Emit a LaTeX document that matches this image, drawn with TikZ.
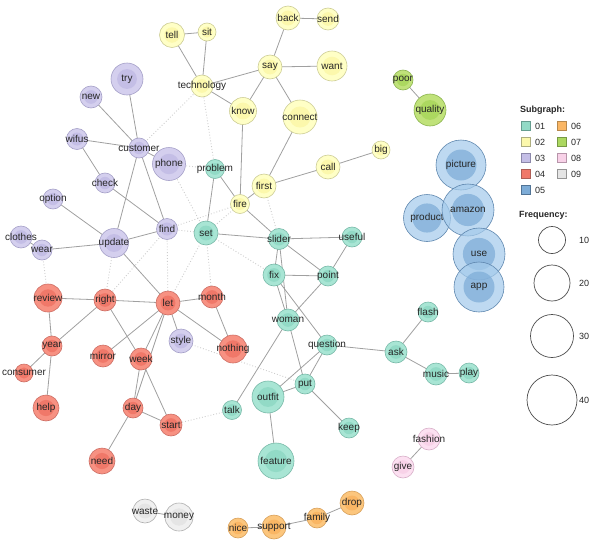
\documentclass[tikz,border=0pt]{standalone}
\usepackage{fontspec}
\setmainfont{Liberation Sans}
\usetikzlibrary{backgrounds}
\definecolor{g1f}{RGB}{168,229,212}\definecolor{g1in}{RGB}{146,218,198}\definecolor{g1b}{RGB}{120,185,168}
\definecolor{g2f}{RGB}{255,255,198}\definecolor{g2in}{RGB}{252,248,172}\definecolor{g2b}{RGB}{205,205,150}
\definecolor{g3f}{RGB}{212,207,238}\definecolor{g3in}{RGB}{196,190,230}\definecolor{g3b}{RGB}{165,160,200}
\definecolor{g4f}{RGB}{247,145,130}\definecolor{g4in}{RGB}{240,120,105}\definecolor{g4b}{RGB}{205,110,100}
\definecolor{g5f}{RGB}{165,203,235}\definecolor{g5in}{RGB}{125,172,215}\definecolor{g5b}{RGB}{95,135,175}
\definecolor{g6f}{RGB}{252,198,125}\definecolor{g6in}{RGB}{250,182,100}\definecolor{g6b}{RGB}{215,160,90}
\definecolor{g7f}{RGB}{192,226,122}\definecolor{g7in}{RGB}{172,216,96}\definecolor{g7b}{RGB}{140,180,80}
\definecolor{g8f}{RGB}{252,224,241}\definecolor{g8in}{RGB}{248,210,232}\definecolor{g8b}{RGB}{215,175,200}
\definecolor{g9f}{RGB}{240,240,240}\definecolor{g9in}{RGB}{229,229,229}\definecolor{g9b}{RGB}{175,175,175}
\definecolor{edgegray}{RGB}{160,160,160}
\definecolor{dotgray}{RGB}{205,205,205}
\tikzset{
  wn/.style={circle, draw=#1b, fill=#1f, line width=0.6pt, inner sep=0pt, outer sep=0pt},
  grp1/.style={wn=g1}, grp2/.style={wn=g2}, grp3/.style={wn=g3}, grp4/.style={wn=g4},
  grp5/.style={wn=g5, fill opacity=0.72}, grp6/.style={wn=g6}, grp7/.style={wn=g7},
  grp8/.style={wn=g8}, grp9/.style={wn=g9},
  lbl/.style={font=\fontsize{10}{10}\selectfont, text=black!85, inner sep=0pt, fill opacity=1, text opacity=1},
  ed/.style={draw=edgegray, line width=0.8pt},
  dt/.style={draw=dotgray, line width=0.9pt, dotted},
  lgsq/.style={draw=#1b!85!black, fill=#1in, minimum size=8.5pt, inner sep=0pt, line width=0.6pt},
  lgtx/.style={font=\fontsize{9}{9}\selectfont, text=black!85, anchor=west, inner sep=0pt},
  lghd/.style={font=\bfseries\fontsize{9}{9}\selectfont, text=black!85, anchor=west, inner sep=0pt},
  frq/.style={circle, draw=black!70, line width=0.7pt, inner sep=0pt},
}
\newcommand\wn[6]{\node[grp#5, minimum size=#4*2pt, path picture={\fill[g#5in] (path picture bounding box.center) circle[radius=#4*0.62pt];}, label={[lbl]center:#6}] (#1) at (#2,#3) {};}
\begin{document}
\begin{tikzpicture}[x=1pt,y=-1pt]
\useasboundingbox (0,0) rectangle (599,546);
% subgraph 02
\wn{tell}{172}{35}{12.5}{2}{tell}
\wn{sit}{207}{32}{9}{2}{sit}
\wn{back}{288}{18}{12}{2}{back}
\wn{send}{328}{19}{11}{2}{send}
\wn{technology}{202}{86}{11}{2}{technology}
\wn{say}{270}{67}{12}{2}{say}
\wn{want}{332}{66}{15}{2}{want}
\wn{know}{243}{111}{13.5}{2}{know}
\wn{connect}{300}{117}{17}{2}{connect}
\wn{first}{264}{186}{12}{2}{first}
\wn{call}{328}{167}{12}{2}{call}
\wn{big}{381}{150}{9}{2}{big}
\wn{fire}{240}{204}{9.5}{2}{fire}
% 07
\wn{poor}{403}{80}{10}{7}{poor}
\wn{quality}{430}{110}{16}{7}{quality}
% 05
\wn{picture}{461}{165}{25}{5}{picture}
\wn{product}{427}{218}{23.5}{5}{product}
\wn{amazon}{468}{210}{26}{5}{amazon}
\wn{use}{479}{254}{26}{5}{use}
\wn{app}{479}{287}{25}{5}{app}
% 03
\wn{try}{127}{79}{16}{3}{try}
\wn{new}{91}{97}{11}{3}{new}
\wn{wifus}{77}{139}{10.5}{3}{wifus}
\wn{customer}{139}{148}{10}{3}{customer}
\wn{phone}{169}{164}{16.5}{3}{phone}
\wn{check}{105}{183}{10}{3}{check}
\wn{option}{53}{199}{10}{3}{option}
\wn{find}{167}{229}{10.5}{3}{find}
\wn{update}{114}{243}{14.5}{3}{update}
\wn{clothes}{21}{237}{11}{3}{clothes}
\wn{wear}{42}{250}{10}{3}{wear}
\wn{style}{181}{341}{12}{3}{style}
% 01
\wn{problem}{215}{169}{9.5}{1}{problem}
\wn{set}{206}{233}{12}{1}{set}
\wn{slider}{279}{239}{10.5}{1}{slider}
\wn{useful}{352}{237}{10}{1}{useful}
\wn{fix}{274}{275}{11}{1}{fix}
\wn{point}{328}{276}{10}{1}{point}
\wn{woman}{288}{320}{11}{1}{woman}
\wn{question}{327}{345}{10}{1}{question}
\wn{ask}{396}{352}{11}{1}{ask}
\wn{flash}{428}{312}{10}{1}{flash}
\wn{music}{436}{374}{11}{1}{music}
\wn{play}{469}{373}{10}{1}{play}
\wn{put}{305}{384}{10}{1}{put}
\wn{outfit}{268}{397}{16}{1}{outfit}
\wn{talk}{232}{410}{9.5}{1}{talk}
\wn{keep}{349}{428}{10}{1}{keep}
\wn{feature}{276}{461}{18}{1}{feature}
% 04
\wn{review}{48}{298}{14}{4}{review}
\wn{right}{105}{300}{11}{4}{right}
\wn{let}{168}{303}{12}{4}{let}
\wn{month}{212}{297}{11}{4}{month}
\wn{year}{52}{346}{10}{4}{year}
\wn{mirror}{103}{356}{11}{4}{mirror}
\wn{week}{141}{359}{11}{4}{week}
\wn{nothing}{233}{349}{14}{4}{nothing}
\wn{consumer}{24}{373}{9}{4}{consumer}
\wn{help}{46}{408}{13}{4}{help}
\wn{day}{133}{408}{10}{4}{day}
\wn{start}{171}{425}{11}{4}{start}
\wn{need}{102}{461}{13}{4}{need}
% 09
\wn{waste}{145}{511}{12}{9}{waste}
\wn{money}{179}{517}{14}{9}{money}
% 06
\wn{nice}{238}{528}{10}{6}{nice}
\wn{support}{274}{527}{12}{6}{support}
\wn{family}{317}{518}{10}{6}{family}
\wn{drop}{352}{503}{12}{6}{drop}
% 08
\wn{fashion}{429}{439}{11}{8}{fashion}
\wn{give}{403}{467}{11}{8}{give}
% edges
\begin{scope}[on background layer]
\foreach \a/\b in {customer/technology, technology/problem, phone/problem, phone/set,
  find/set, find/fire, find/let, set/let, set/month, set/fire, set/fix, first/slider,
  update/right, wear/review, right/find, style/put, start/talk}
  \draw[dt] (\a.center) -- (\b.center);
\foreach \a/\b in {tell/sit, tell/technology, sit/technology, technology/say, technology/know,
  say/back, back/send, say/want, say/know, say/connect, know/fire, connect/first, fire/first,
  first/call, call/big, problem/fire, fire/slider, poor/quality,
  try/customer, new/customer, wifus/customer, wifus/check, customer/phone, customer/update,
  customer/find, check/find, option/update, wear/update, clothes/wear, update/find, update/let,
  let/style, problem/set, set/slider, slider/useful, slider/fix, slider/point, slider/woman,
  fix/woman, fix/question, fix/point, useful/point, point/woman, woman/put, woman/talk,
  question/ask, question/put, question/outfit, outfit/put, outfit/feature, put/keep,
  ask/flash, ask/music, music/play,
  review/right, review/year, year/consumer, year/help, right/let, right/year, right/week,
  let/month, let/nothing, month/nothing, let/mirror, let/week, let/day, week/day, week/start,
  day/start, day/need, waste/money, nice/support, support/family, family/drop, fashion/give}
  \draw[ed] (\a.center) -- (\b.center);
\end{scope}
% legend
\node[lghd] (subg) at (520,110) {Subgraph:};
\foreach \n/\x/\y in {1/526/126, 2/526/142, 3/526/158, 4/526/174, 5/526/190,
                      6/562/126, 7/562/142, 8/562/158, 9/562/174}{
  \node[lgsq=g\n] (sq\n) at (\x,\y) {};
  \node[lgtx] (st\n) at (\x+9,\y) {0\n};
}
\node[lghd] (freq) at (519,215) {Frequency:};
\foreach \v/\y/\r in {10/240/13.5, 20/283/18, 30/336/21.5, 40/400/25}{
  \node[frq, minimum size=\r*2pt] (f\v) at (552,\y) {};
  \node[lgtx] (fl\v) at (579,\y) {\v};
}
\end{tikzpicture}
\end{document}
